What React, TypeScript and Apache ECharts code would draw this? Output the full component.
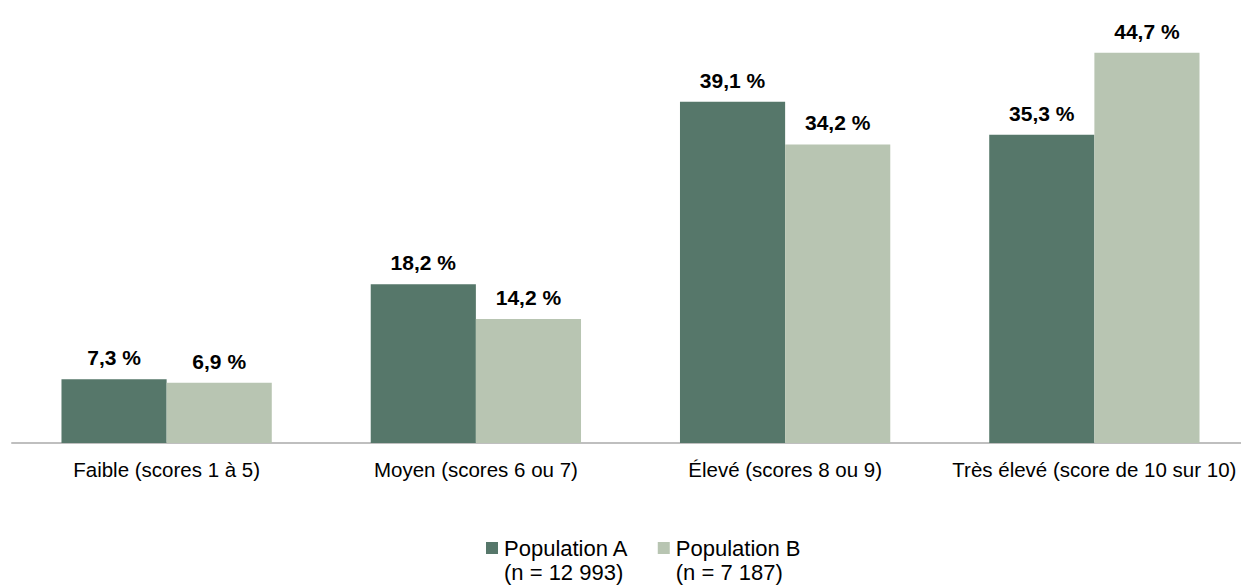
import React, { useEffect, useRef } from "react";
import * as echarts from "echarts";

const categories = [
  "Faible (scores 1 à 5)",
  "Moyen (scores 6 ou 7)",
  "Élevé (scores 8 ou 9)",
  "Très élevé (score de 10 sur 10)",
];
const seriesNames = ["Population A", "Population B"];
const seriesCounts = ["(n = 12 993)", "(n = 7 187)"];
const popA = [7.3, 18.2, 39.1, 35.3];
const popB = [6.9, 14.2, 34.2, 44.7];

const FONT = "'Liberation Sans', Arial, sans-serif";
const colors = ["#56776a", "#b8c5b2"];

export default function App() {
  const ref = useRef<HTMLDivElement>(null);
  useEffect(() => {
    if (!ref.current) return;
    const chart = echarts.init(ref.current, null, { renderer: "svg" });
    const fmt = (v: number) => v.toFixed(1).replace(".", ",") + " %";
    chart.setOption({
      animation: false,
      textStyle: { fontFamily: FONT },
      grid: { left: 4, right: 0, top: 16, bottom: 145, containLabel: false },
      legend: {
        top: 505,
        left: 478,
        padding: 0,
        itemWidth: 12,
        itemHeight: 12,
        itemGap: 29,
        icon: "rect",
        data: seriesNames,
        formatter: (name: string) => {
          const i = seriesNames.indexOf(name);
          return `{a|\u00a0}\n{a|${name}}\n{a|${seriesCounts[i]}}`;
        },
        textStyle: {
          fontFamily: FONT,
          fontSize: 22,
          color: "#000",
          padding: [0, 0, 0, 1],
          rich: { a: { fontFamily: FONT, fontSize: 22, lineHeight: 24, color: "#000" } },
        },
      },
      xAxis: {
        type: "category",
        data: categories,
        axisTick: { show: false },
        axisLine: { lineStyle: { color: "#bfbfbf", width: 2 } },
        axisLabel: { fontFamily: FONT, fontSize: 20.5, color: "#000", margin: 16, interval: 0 },
      },
      yAxis: { type: "value", min: 0, max: 48, show: false, splitLine: { show: false } },
      series: [popA, popB].map((d, i) => ({
        name: seriesNames[i],
        type: "bar",
        data: d,
        barWidth: "34%",
        barGap: "0%",
        itemStyle: { color: colors[i] },
        label: {
          show: true,
          position: "top",
          distance: 11,
          fontFamily: FONT,
          fontSize: 21,
          fontWeight: "bold",
          color: "#000",
          formatter: (p: any) => fmt(p.value),
        },
      })),
    });
    return () => chart.dispose();
  }, []);
  return <div ref={ref} style={{ width: 1241, height: 580 }} />;
}
